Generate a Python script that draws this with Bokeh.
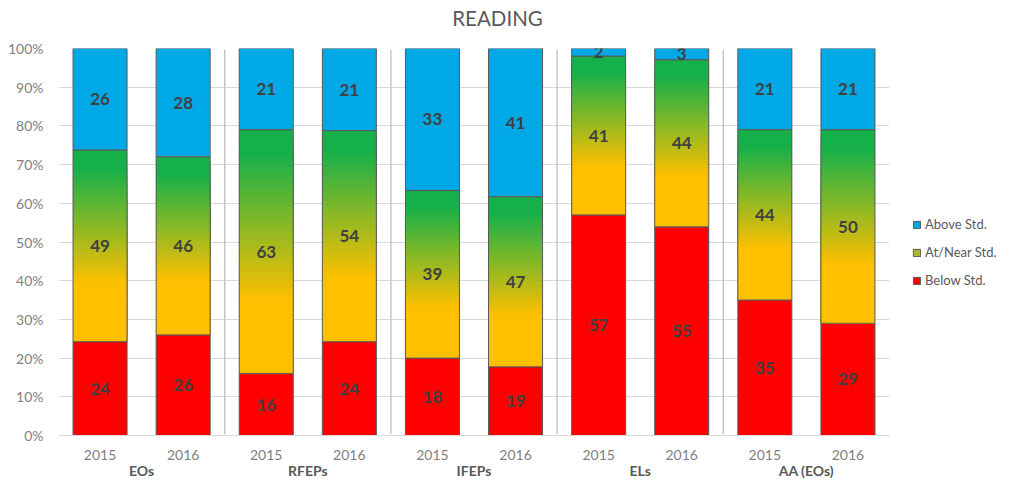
from bokeh.plotting import figure
from bokeh.layouts import row, column
from bokeh.models import (FactorRange, Legend, LegendItem, CategoricalAxis,
                          NumeralTickFormatter, FixedTicker, Range1d)
from bokeh.embed import file_html
from bokeh.resources import INLINE
from bokeh.core.properties import value

# ---------------- data ----------------
groups = ["EOs", "RFEPs", "IFEPs", "ELs", "AA (EOs)"]
years = ["2015", "2016"]
below_std = [24, 26, 16, 24, 18, 19, 57, 55, 35, 29]
near_std = [49, 46, 63, 54, 39, 47, 41, 44, 44, 50]
above_std = [26, 28, 21, 21, 33, 41, 2, 3, 21, 21]
y_ticks = [0, 0.1, 0.2, 0.3, 0.4, 0.5, 0.6, 0.7, 0.8, 0.9, 1.0]
series_names = ["Above Std.", "At/Near Std.", "Below Std."]
chart_title = "READING"

BLUE = "#00a8e6"
RED = "#ff0000"
GREEN = (22, 176, 74)
YELLOW = (255, 192, 0)
TXT = "#404040"
GRAY = "#7f7f7f"
FONT = "Lato"

# unique year factors per group (zero-width spaces keep them distinct, invisible)
factors = [y + "\u200b" * gi for gi, g in enumerate(groups) for y in years]
totals = [b + n + a for b, n, a in zip(below_std, near_std, above_std)]
b_top = [b / t for b, t in zip(below_std, totals)]
n_top = [(b + n) / t for b, n, t in zip(below_std, near_std, totals)]

# ---------- title strip ----------
tf = figure(width=891, height=34, x_range=Range1d(0, 891), y_range=Range1d(0, 34),
            title=None, x_axis_type=None, y_axis_type=None, min_border=0,
            output_backend="svg", toolbar_location=None, outline_line_color=None,
            background_fill_color="white", border_fill_color="white")
tf.grid.visible = False
tf.text(x=[497], y=[17], text=[chart_title], text_align="center", text_baseline="middle",
        text_font=value(FONT), text_font_size="20.5px", text_color="#595959")

# ---------- main chart ----------
p = figure(x_range=FactorRange(*factors, factor_padding=0, range_padding=0),
           y_range=Range1d(0, 1),
           width=891, height=451, title=None,
           min_border_left=58, min_border_top=14, min_border_bottom=50, min_border_right=2,
           output_backend="svg", toolbar_location=None,
           outline_line_color=None, background_fill_color="white", border_fill_color="white")
p.extra_x_ranges["grp"] = FactorRange(*groups, range_padding=0)

W = 0.65

# separators between groups
sep_x = [("2016" + "\u200b" * gi, 0.5) for gi in range(len(groups) - 1)]
p.segment(x0=sep_x, y0=[0.003] * len(sep_x), x1=sep_x, y1=[0.997] * len(sep_x),
          line_color="#bfbfbf", line_width=1.3)

p.vbar(x=factors, bottom=0, top=b_top, width=W, fill_color=RED,
       line_color="#595959", line_width=1)
p.vbar(x=factors, bottom=n_top, top=1, width=W, fill_color=BLUE,
       line_color="#595959", line_width=1)

def grad(t):
    if t <= 0.1:
        return "#%02x%02x%02x" % GREEN
    if t >= 0.7:
        return "#%02x%02x%02x" % YELLOW
    u = (t - 0.1) / 0.6
    c = [int(round(GREEN[i] + (YELLOW[i] - GREEN[i]) * u)) for i in range(3)]
    return "#%02x%02x%02x" % tuple(c)

N = 60
gx, gb, gt, gc = [], [], [], []
for f, lo, hi in zip(factors, b_top, n_top):
    h = (hi - lo) / N
    for k in range(N):
        gx.append(f)
        gb.append(lo)
        gt.append(hi - k * h)
        gc.append(grad((k + 0.5) / N))
p.vbar(x=gx, bottom=gb, top=gt, width=W, fill_color=gc, line_color=None)
p.vbar(x=factors, bottom=b_top, top=n_top, width=W, fill_color=None,
       line_color="#595959", line_width=1)

lab_x = factors * 3
lab_y = ([bt / 2 for bt in b_top] +
         [(lo + hi) / 2 for lo, hi in zip(b_top, n_top)] +
         [(hi + 1) / 2 for hi in n_top])
lab_t = [str(v) for v in below_std + near_std + above_std]
p.text(x=lab_x, y=lab_y, text=lab_t, text_align="center", text_baseline="middle",
       text_font=value(FONT), text_font_size="17px", text_font_style="bold",
       text_color=TXT)

p.xgrid.grid_line_color = None
p.ygrid.grid_line_color = "#d9d9d9"
p.ygrid.grid_line_width = 1
p.yaxis.ticker = FixedTicker(ticks=y_ticks)
p.yaxis.formatter = NumeralTickFormatter(format="0%")
p.yaxis.axis_line_color = None
p.yaxis.major_tick_line_color = None
p.yaxis.minor_tick_line_color = None
p.yaxis.major_tick_out = 0
p.yaxis.major_label_standoff = 15
p.yaxis.major_label_text_font = FONT
p.yaxis.major_label_text_font_size = "14px"
p.yaxis.major_label_text_color = GRAY

xa = p.xaxis[0]
xa.axis_line_color = "#d9d9d9"
xa.major_tick_line_color = None
xa.major_tick_out = 0
xa.major_label_standoff = 10
xa.major_label_text_font = FONT
xa.major_label_text_font_size = "14px"
xa.major_label_text_color = GRAY

ga = CategoricalAxis(x_range_name="grp")
ga.axis_line_color = None
ga.major_tick_line_color = None
ga.major_tick_out = 0
ga.major_tick_in = 0
ga.major_label_standoff = -4
ga.axis_label_standoff = 0
ga.major_label_text_font = FONT
ga.major_label_text_font_size = "14px"
ga.major_label_text_font_style = "bold"
ga.major_label_text_color = "#595959"
p.add_layout(ga, "below")

# ---------- legend panel ----------
lg = figure(width=122, height=451, x_range=Range1d(0, 1), y_range=Range1d(0, 1),
            min_border=0, output_backend="svg", toolbar_location=None,
            outline_line_color=None, background_fill_color="white",
            border_fill_color="white")
lg.axis.visible = False
lg.grid.visible = False
legend_colors = [BLUE, "#a9b82c", RED]
items = []
for name, col in zip(series_names, legend_colors):
    # legend-only renderers: their bars lie outside the visible range
    r = lg.vbar(x=[5], bottom=[5], top=[6], width=0.5, fill_color=col,
                line_color="#595959", line_width=1)
    items.append(LegendItem(label=name, renderers=[r]))
legend = Legend(items=items, location=(21, 147))
legend.border_line_color = None
legend.background_fill_alpha = 0
legend.glyph_width = 9
legend.glyph_height = 9
legend.label_standoff = 4
legend.spacing = 12
legend.label_text_font = FONT
legend.label_text_font_size = "13px"
legend.label_text_color = "#595959"
legend.margin = 0
legend.padding = 0
lg.add_layout(legend)

layout = column(tf, row(p, lg))
open("out.html", "w").write(file_html(layout, INLINE))
